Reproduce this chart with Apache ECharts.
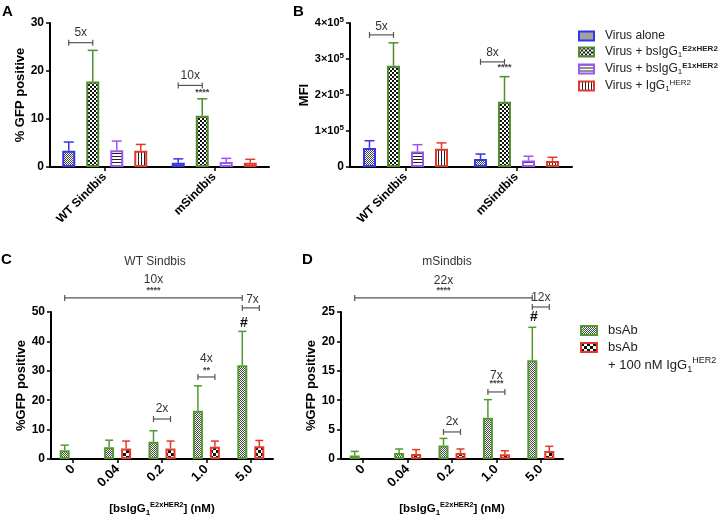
<!DOCTYPE html>
<html><head><meta charset="utf-8">
<script src="https://cdn.jsdelivr.net/npm/echarts@6/dist/echarts.min.js"></script>
<style>html,body{margin:0;padding:0;background:#fff}#c{width:720px;height:521px}</style>
</head><body><div id="c"></div>
<script>
// ---------- data ----------
const groupsAB = ['WT Sindbis', 'mSindbis'];
const namesAB = ['Virus alone', 'Virus + bsIgG1 E2xHER2', 'Virus + bsIgG1 E1xHER2', 'Virus + IgG1 HER2'];
// Panel A: % GFP positive (mean, SD)
const gfpAlone = [3.4, 0.9];   const gfpAloneSd = [1.8, 0.8];
const gfpE2    = [17.8, 10.7]; const gfpE2Sd    = [6.5, 3.5];
const gfpE1    = [3.5, 1.05];  const gfpE1Sd    = [1.9, 0.75];
const gfpIgG   = [3.4, 0.9];   const gfpIgGSd   = [1.3, 0.7];
// Panel B: MFI (mean, SD)
const mfiAlone = [53000, 22000];   const mfiAloneSd = [20000, 14000];
const mfiE2    = [281000, 181000]; const mfiE2Sd    = [64000, 70000];
const mfiE1    = [43000, 18000];   const mfiE1Sd    = [19000, 12000];
const mfiIgG   = [51000, 17000];   const mfiIgGSd   = [16000, 10000];
// Panels C/D: dose response
const doses = ['0', '0.04', '0.2', '1.0', '5.0'];
const namesCD = ['bsAb', 'bsAb + 100 nM IgG1 HER2'];
const wtBsAb    = [3.0, 4.0, 5.9, 16.4, 31.9];  const wtBsAbSd    = [1.7, 2.4, 3.7, 8.5, 11.5];
const wtBlocked = [null, 3.6, 3.6, 4.2, 4.3];   const wtBlockedSd = [null, 2.5, 2.5, 1.9, 2.0];
const mBsAb     = [0.6, 1.0, 2.3, 7.0, 16.8];   const mBsAbSd     = [0.7, 0.7, 1.2, 3.1, 5.6];
const mBlocked  = [null, 0.85, 1.0, 0.8, 1.36]; const mBlockedSd  = [null, 0.75, 0.7, 0.6, 0.8];
// tick values
const ticksA = [0, 10, 20, 30];
const ticksB = [0, 100000, 200000, 300000, 400000];
const ticksC = [0, 10, 20, 30, 40, 50];
const ticksD = [0, 5, 10, 15, 20, 25];
// annotations: brackets [cat1, slot1, cat2, slot2, y]; labels [cat, slot, y, text]
const bracketsA = [[0,0,0,1,25.9],[1,0,1,1,17.0]];
const labelsA = [[0,0.5,27.9,'5x'],[1,0.5,19.0,'10x'],[1,1,15.6,'****']];
const bracketsB = [[0,0,0,1,367000],[1,0,1,1,292000]];
const labelsB = [[0,0.5,390000,'5x'],[1,0.5,317000,'8x'],[1,1,275000,'****']];
const bracketsC = [[0,0,4,0,54.8],[4,0,4,1,51.4],[3,0,3,1,27.9],[2,0,2,1,13.6]];
const labelsC = [[2,0,61.0,'10x'],[2,0,57.2,'****'],[4,0.6,54.3,'7x'],[4,0.1,46.3,'#'],[3,0.5,34.0,'4x'],[3,0.5,30.0,'**'],[2,0.5,17.0,'2x']];
const bracketsD = [[0,0,4,0,27.4],[4,0,4,1,25.85],[3,0,3,1,11.4],[2,0,2,1,4.6]];
const labelsD = [[2,0,30.4,'22x'],[2,0,28.6,'****'],[4,0.5,27.4,'12x'],[4,0.1,24.1,'#'],[3,0.5,14.1,'7x'],[3,0.5,12.8,'****'],[2,0.5,6.3,'2x']];

// ---------- styles ----------
const FONT = 'Liberation Sans, Arial, Helvetica, sans-serif';
function pat(w, h, ink, draw) {
  const c = document.createElement('canvas'); c.width = w; c.height = h;
  const g = c.getContext('2d'); g.fillStyle = '#fff'; g.fillRect(0, 0, w, h);
  g.fillStyle = ink; draw(g); return { image: c, repeat: 'repeat' };
}
const fineChecker = pat(2, 2, '#444', g => { g.fillRect(0,0,1,1); g.fillRect(1,1,1,1); });
const coarseChecker = pat(4, 4, '#111', g => { g.fillRect(0,0,2,2); g.fillRect(2,2,2,2); });
const bigChecker = pat(6, 6, '#111', g => { g.fillRect(0,0,3,3); g.fillRect(3,3,3,3); });
const hLines = pat(1, 3, '#222', g => g.fillRect(0,0,1,1));
const vLines = pat(3, 1, '#222', g => g.fillRect(0,0,1,1));
const colorsAB = ['#3535ea', '#4f8c2e', '#9d55f2', '#e3382a'];
const colorsCD = ['#509a2e', '#e33a28'];

const series = [];
function slotOff(s, n, spacing) { return (s - (n - 1) / 2) * spacing; }
function addPanel(gi, names, means, sds, colors, pats, barW, spacing, cap, brackets, labels) {
  const n = means.length;
  means.forEach((m, i) => series.push({
    type: 'bar', name: names[i], xAxisIndex: gi, yAxisIndex: gi, data: m,
    barWidth: barW, barGap: ((spacing - barW) / barW * 100) + '%',
    itemStyle: { color: pats[i], borderColor: colors[i], borderWidth: 2 },
    emphasis: { disabled: true }, z: 2
  }));
  const rows = [];
  means.forEach((m, i) => m.forEach((v, c) => { if (v != null) rows.push([c, i, v, v + sds[i][c]]); }));
  series.push({
    type: 'custom', xAxisIndex: gi, yAxisIndex: gi, data: rows, clip: false, z: 3,
    encode: { x: 0, y: [2, 3] },
    renderItem(params, api) {
      const c = api.value(0), s = api.value(1);
      const p0 = api.coord([c, api.value(2)]), p1 = api.coord([c, api.value(3)]);
      const x = p0[0] + slotOff(s, n, spacing);
      const st = { stroke: colors[s], lineWidth: 1.5 };
      return { type: 'group', children: [
        { type: 'line', shape: { x1: x, y1: p0[1], x2: x, y2: p1[1] }, style: st },
        { type: 'line', shape: { x1: x - cap / 2, y1: p1[1], x2: x + cap / 2, y2: p1[1] }, style: st }
      ] };
    }
  });
  series.push({
    type: 'custom', xAxisIndex: gi, yAxisIndex: gi, clip: false, z: 4,
    data: brackets.map(b => [b[0], b[4]]), encode: { x: 0, y: 1 },
    renderItem(params, api) {
      const b = brackets[params.dataIndex];
      const a1 = api.coord([b[0], b[4]]), a2 = api.coord([b[2], b[4]]);
      const x1 = a1[0] + slotOff(b[1], n, spacing), x2 = a2[0] + slotOff(b[3], n, spacing), y = a1[1];
      const st = { stroke: '#555', lineWidth: 1.2 };
      return { type: 'group', children: [
        { type: 'line', shape: { x1, y1: y, x2, y2: y }, style: st },
        { type: 'line', shape: { x1, y1: y - 3, x2: x1, y2: y + 3 }, style: st },
        { type: 'line', shape: { x1: x2, y1: y - 3, x2, y2: y + 3 }, style: st }
      ] };
    }
  });
  series.push({
    type: 'custom', xAxisIndex: gi, yAxisIndex: gi, clip: false, z: 4,
    data: labels.map(l => [l[0], l[2]]), encode: { x: 0, y: 1 },
    renderItem(params, api) {
      const l = labels[params.dataIndex];
      const p = api.coord([l[0], l[2]]);
      const t = l[3];
      let font = '12px ' + FONT, fill = '#333';
      if (t.indexOf('*') >= 0) { font = 'bold 9px ' + FONT; fill = '#444'; }
      if (t === '#') { font = 'bold 14px ' + FONT; fill = '#111'; }
      return { type: 'text', x: p[0] + slotOff(l[1], n, spacing), y: p[1],
        style: { text: t, font, fill, align: 'center', verticalAlign: 'middle' } };
    }
  });
}
addPanel(0, namesAB, [gfpAlone, gfpE2, gfpE1, gfpIgG], [gfpAloneSd, gfpE2Sd, gfpE1Sd, gfpIgGSd],
  colorsAB, [fineChecker, coarseChecker, hLines, vLines], 13, 24, 10, bracketsA, labelsA);
addPanel(1, namesAB, [mfiAlone, mfiE2, mfiE1, mfiIgG], [mfiAloneSd, mfiE2Sd, mfiE1Sd, mfiIgGSd],
  colorsAB, [fineChecker, coarseChecker, hLines, vLines], 13, 24, 10, bracketsB, labelsB);
addPanel(2, namesCD, [wtBsAb, wtBlocked], [wtBsAbSd, wtBlockedSd],
  colorsCD, [fineChecker, bigChecker], 10, 17, 8, bracketsC, labelsC);
addPanel(3, namesCD, [mBsAb, mBlocked], [mBsAbSd, mBlockedSd],
  colorsCD, [fineChecker, bigChecker], 10, 17, 8, bracketsD, labelsD);

const axisLine = { show: true, lineStyle: { color: '#000', width: 2 } };
const axisTick = { show: true, length: 4, lineStyle: { color: '#000', width: 1.5 } };
function xCat(gi, data, fs) {
  return { type: 'category', gridIndex: gi, data, axisLine, axisTick: Object.assign({ alignWithLabel: true }, axisTick),
    axisLabel: { rotate: 45, fontWeight: 'bold', fontSize: fs, color: '#000', margin: 8, interval: 0 } };
}
function yVal(gi, ticks, name, gap, fmt, rich) {
  return { type: 'value', gridIndex: gi, min: ticks[0], max: ticks[ticks.length - 1], interval: ticks[1] - ticks[0],
    splitLine: { show: false }, axisLine, axisTick,
    axisLabel: { fontWeight: 'bold', fontSize: 12, color: '#000', margin: 6, formatter: fmt, rich },
    name, nameLocation: 'middle', nameGap: gap, nameTextStyle: { fontWeight: 'bold', fontSize: 13, color: '#000' } };
}
const supRich = {
  n: { fontWeight: 'bold', fontSize: 11, color: '#000', lineHeight: 14 },
  p: { fontWeight: 'bold', fontSize: 8, color: '#000', lineHeight: 8, verticalAlign: 'top' }
};
const xNameRich = {
  b: { fontWeight: 'bold', fontSize: 11.5, color: '#000', lineHeight: 16 },
  sub: { fontWeight: 'bold', fontSize: 8, color: '#000', lineHeight: 6, verticalAlign: 'bottom' },
  sup: { fontWeight: 'bold', fontSize: 7.5, color: '#000', lineHeight: 8, verticalAlign: 'top' }
};
const xName = '{b|[bsIgG}{sub|1}{sup|E2xHER2}{b|] (nM)}';
const xC = Object.assign(xCat(2, doses, 13), { name: xName, nameLocation: 'middle', nameGap: 42, nameTextStyle: { rich: xNameRich } });
const xD = Object.assign(xCat(3, doses, 13), { name: xName, nameLocation: 'middle', nameGap: 42, nameTextStyle: { rich: xNameRich } });

const legRich = {
  t: { fontSize: 12, color: '#222', lineHeight: 14 },
  sub: { fontSize: 8, color: '#222', lineHeight: 6, verticalAlign: 'bottom' },
  sup: { fontSize: 8, color: '#222', lineHeight: 8, verticalAlign: 'top' },
  supb: { fontSize: 8, fontWeight: 'bold', color: '#222', lineHeight: 8, verticalAlign: 'top' }
};
const legLabelsAB = ['{t|Virus alone}', '{t|Virus + bsIgG}{sub|1}{supb|E2xHER2}', '{t|Virus + bsIgG}{sub|1}{supb|E1xHER2}', '{t|Virus + IgG}{sub|1}{sup|HER2}'];
const legRichCD = {
  t: { fontSize: 13, color: '#222', lineHeight: 18 },
  sub: { fontSize: 9, color: '#222', lineHeight: 8, verticalAlign: 'bottom' },
  sup: { fontSize: 9, color: '#222', lineHeight: 10, verticalAlign: 'top' }
};

const option = {
  animation: false,
  textStyle: { fontFamily: FONT },
  title: [
    { text: 'A', left: 2, top: 4, padding: 0, textStyle: { fontSize: 15, fontWeight: 'bold', color: '#000' } },
    { text: 'B', left: 293, top: 4, padding: 0, textStyle: { fontSize: 15, fontWeight: 'bold', color: '#000' } },
    { text: 'C', left: 1, top: 252, padding: 0, textStyle: { fontSize: 15, fontWeight: 'bold', color: '#000' } },
    { text: 'D', left: 302, top: 252, padding: 0, textStyle: { fontSize: 15, fontWeight: 'bold', color: '#000' } },
    { text: 'WT Sindbis', left: 155, top: 256, padding: 0, textAlign: 'center', textStyle: { fontSize: 12, fontWeight: 'normal', color: '#333' } },
    { text: 'mSindbis', left: 447, top: 256, padding: 0, textAlign: 'center', textStyle: { fontSize: 12, fontWeight: 'normal', color: '#333' } }
  ],
  legend: [
    { orient: 'vertical', left: 573, top: 25, itemWidth: 15, itemHeight: 9, itemGap: 3, icon: 'rect', selectedMode: false,
      data: namesAB, formatter: nm => legLabelsAB[namesAB.indexOf(nm)],
      textStyle: { padding: [0, 0, 0, 6], rich: legRich } },
    { orient: 'vertical', left: 575, top: 319, itemWidth: 16, itemHeight: 9, icon: 'rect', selectedMode: false,
      data: [namesCD[0]], formatter: () => '{t|bsAb}', textStyle: { padding: [0, 0, 0, 6], rich: legRichCD } },
    { orient: 'vertical', left: 575, top: 336, itemWidth: 16, itemHeight: 9, icon: 'rect', selectedMode: false,
      data: [namesCD[1]], formatter: () => '{t|bsAb}\n{t|+ 100 nM IgG}{sub|1}{sup|HER2}',
      textStyle: { padding: [18, 0, 0, 6], rich: legRichCD } }
  ],
  grid: [
    { left: 50, top: 23, width: 219, height: 144 },
    { left: 350, top: 23, width: 222, height: 144 },
    { left: 51, top: 312, width: 222, height: 147 },
    { left: 341, top: 312, width: 222, height: 147 }
  ],
  xAxis: [xCat(0, groupsAB, 12), xCat(1, groupsAB, 12), xC, xD],
  yAxis: [
    yVal(0, ticksA, '% GFP positive', 23),
    yVal(1, ticksB, 'MFI', 38, v => v === 0 ? '0' : '{n|' + (v / 100000) + '×10}{p|5}', supRich),
    yVal(2, ticksC, '%GFP positive', 22),
    yVal(3, ticksD, '%GFP positive', 20)
  ],
  series
};
const chart = echarts.init(document.getElementById('c'), null, { renderer: 'canvas' });
chart.setOption(option);
</script></body></html>
